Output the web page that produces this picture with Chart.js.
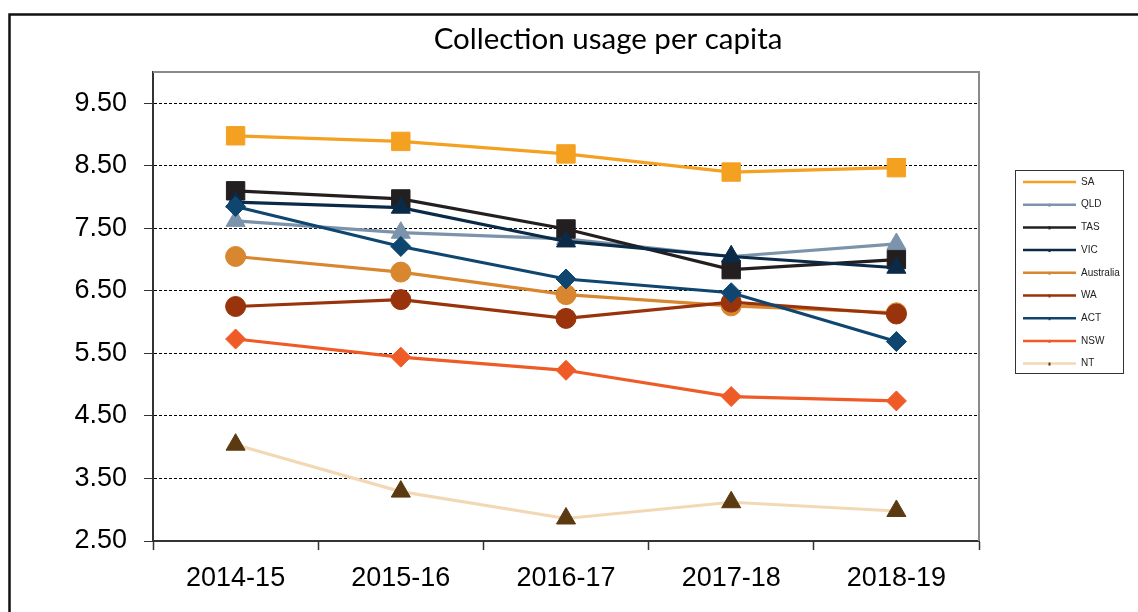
<!DOCTYPE html>
<html>
<head>
<meta charset="utf-8">
<script src="https://cdn.jsdelivr.net/npm/chart.js@4.4.1/dist/chart.umd.min.js"></script>
<style>
  html, body { margin: 0; padding: 0; background: #fff; overflow: hidden; }
  #wrap { position: absolute; left: 0; top: 0; width: 1138px; height: 612px; }
</style>
</head>
<body>
<div id="wrap"><canvas id="usage-chart" width="1138" height="612"></canvas></div>
<script>

// Chart data

const chartTitle = 'Collection usage per capita';
const years = ['2014-15', '2015-16', '2016-17', '2017-18', '2018-19'];
const yTicks = [2.5, 3.5, 4.5, 5.5, 6.5, 7.5, 8.5, 9.5];

const sa = [8.98, 8.89, 8.69, 8.40, 8.47];
const qld = [7.62, 7.43, 7.33, 7.05, 7.25];
const tas = [8.10, 7.97, 7.49, 6.84, 7.00];
const vic = [7.92, 7.83, 7.29, 7.05, 6.87];
const australia = [7.05, 6.80, 6.44, 6.26, 6.15];
const wa = [6.25, 6.36, 6.06, 6.32, 6.13];
const act = [7.85, 7.21, 6.69, 6.47, 5.69];
const nsw = [5.73, 5.44, 5.23, 4.81, 4.74];
const nt = [4.04, 3.29, 2.86, 3.12, 2.98];

const axisFont = { family: '"Liberation Sans", Arial, sans-serif', size: 27 };

function series(label, data, color, style, radius, markerColor) {
  return {
    label: label,
    data: data,
    borderColor: color,
    backgroundColor: color,
    borderWidth: 3.2,
    pointStyle: style,
    pointRadius: radius,
    pointHoverRadius: radius,
    pointBackgroundColor: markerColor || color,
    pointBorderColor: markerColor || color,
    pointBorderWidth: 1,
    tension: 0
  };
}

const datasets = [
  series('SA', sa, '#F4A020', 'rect', 13),
  series('QLD', qld, '#7B93AB', 'triangle', 11),
  series('TAS', tas, '#231F20', 'rect', 13),
  series('VIC', vic, '#0B2A47', 'triangle', 11),
  series('Australia', australia, '#D8862F', 'circle', 10),
  series('WA', wa, '#98330B', 'circle', 10),
  series('ACT', act, '#0F4670', 'rectRot', 10),
  series('NSW', nsw, '#EF5B27', 'rectRot', 10),
  series('NT', nt, '#F3D8B6', 'triangle', 11, '#5B3A12')
];

// later series sit on top, like the original
datasets.forEach((d, i) => { d.order = datasets.length - i; });

// outer frame, title and top/right plot border
const framePlugin = {
  id: 'frame',
  beforeDraw(chart) {
    const c = chart.ctx;
    c.save();
    c.fillStyle = '#fff';
    c.fillRect(0, 0, chart.width, chart.height);
    c.strokeStyle = '#111';
    c.lineWidth = 2.5;
    c.strokeRect(9.5, 14.5, 1300, 800);
    c.fillStyle = '#000';
    c.font = '29.5px Lato, "Open Sans", sans-serif';
    c.textAlign = 'center';
    c.textBaseline = 'middle';
    c.fillText(chartTitle, 608, 39);
    c.restore();
  },
  afterDatasetsDraw(chart) {
    const a = chart.chartArea;
    const c = chart.ctx;
    c.save();
    c.strokeStyle = '#8a8a8a';
    c.lineWidth = 2;
    c.beginPath();
    c.moveTo(a.left, a.top);
    c.lineTo(a.right, a.top);
    c.lineTo(a.right, a.bottom);
    c.stroke();
    c.restore();
  }
};

// boxed legend on the right
const legendBox = {
  id: 'legendBox',
  afterDraw(chart) {
    const c = chart.ctx;
    c.save();
    c.strokeStyle = '#333';
    c.lineWidth = 1;
    c.strokeRect(1015.5, 170.5, 108, 203);
    c.font = '10px "Liberation Sans", Arial, sans-serif';
    c.textBaseline = 'middle';
    chart.data.datasets.forEach((d, i) => {
      const y = 182 + i * 22.7;
      c.strokeStyle = d.borderColor;
      c.lineWidth = 2.5;
      c.beginPath();
      c.moveTo(1023, y);
      c.lineTo(1076, y);
      c.stroke();
      if (i > 0) {
        c.fillStyle = d.pointBackgroundColor;
        c.fillRect(1048.5, y - 1, 2, 3);
      }
      c.fillStyle = '#222';
      c.fillText(d.label, 1081, y);
    });
    c.restore();
  }
};

const ctx = document.getElementById('usage-chart').getContext('2d');

const usageChart = new Chart(ctx, {
  type: 'line',
  data: {
    labels: years,
    datasets: datasets
  },
  options: {
    responsive: false,
    animation: false,
    layout: {
      padding: { left: 0, right: 159, top: 72, bottom: 0 }
    },
    scales: {
      x: {
        offset: true,
        border: { color: '#333', width: 2 },
        grid: {
          offset: true,
          drawOnChartArea: false,
          drawTicks: true,
          tickLength: 9,
          tickColor: '#333',
          tickWidth: 1.5
        },
        ticks: { color: '#000', font: axisFont, padding: 12, maxRotation: 0 },
        afterFit(scale) { scale.height = 71; }
      },
      y: {
        min: 2.5,
        max: 10,
        border: { color: '#333', width: 2, dash: [3, 2] },
        afterBuildTicks(scale) {
          scale.ticks = yTicks.map(v => ({ value: v }));
        },
        afterFit(scale) { scale.width = 153; },
        grid: {
          color: '#000',
          lineWidth: 1,
          tickLength: 9,
          tickColor: '#333',
          tickBorderDash: []
        },
        ticks: {
          color: '#000',
          font: axisFont,
          padding: 17,
          callback: v => Number(v).toFixed(2)
        }
      }
    },
    plugins: {
      legend: { display: false },
      tooltip: { enabled: false },
      title: { display: false }
    }
  },
  plugins: [framePlugin, legendBox]
});

</script>
</body>
</html>
